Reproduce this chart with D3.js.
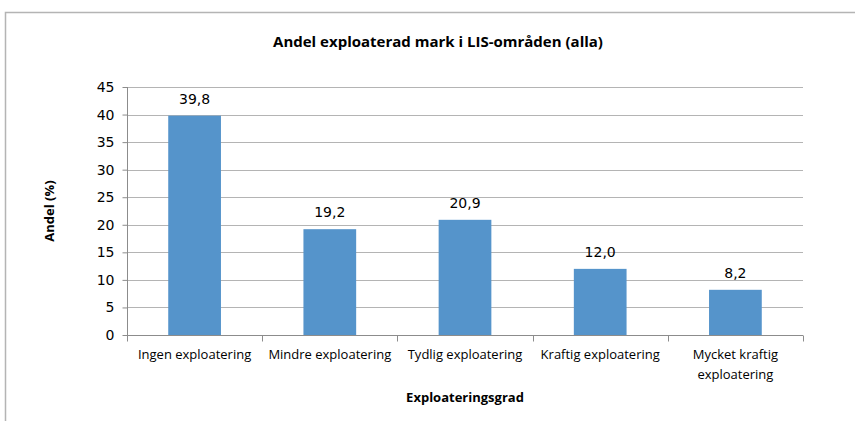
<!DOCTYPE html>
<html><head><meta charset="utf-8">
<script src="https://cdn.jsdelivr.net/npm/d3@7"></script>
<style>body{margin:0;background:#fff}svg{display:block}</style>
</head><body>
<script>
const categories = ["Ingen exploatering","Mindre exploatering","Tydlig exploatering","Kraftig exploatering","Mycket kraftig exploatering"];
const values = [39.8, 19.2, 20.9, 12.0, 8.2];
const yTicks = [0,5,10,15,20,25,30,35,40,45];
const title = "Andel exploaterad mark i LIS-områden (alla)";
const xTitle = "Exploateringsgrad";
const yTitle = "Andel (%)";

(function(){
const W = 855, H = 421;
const narrow = "'Liberation Sans Narrow','Arial Narrow','Open Sans',sans-serif";
const wide = "'DejaVu Sans',Verdana,sans-serif";
const svg = d3.select("body").append("svg").attr("width", W).attr("height", H);

// frame
svg.append("path").attr("d", `M5.5,${H} V12.5 H${W}`).attr("fill","none").attr("stroke","#b4b4b4").attr("stroke-width",1.5);

const pL = 127, pR = 803, pT = 87, pB = 335;
const x = d3.scaleBand().domain(categories).range([pL, pR]).paddingInner(0.61).paddingOuter(0.305);
const xb = d3.scaleBand().domain(categories).range([pL, pR]);
const y = d3.scaleLinear().domain([0,45]).range([pB, pT]);

// gridlines
svg.append("g").selectAll("line").data(yTicks.filter(d=>d>0)).join("line")
  .attr("x1", pL).attr("x2", pR).attr("y1", d=>Math.round(y(d))+0.5).attr("y2", d=>Math.round(y(d))+0.5)
  .attr("stroke","#b4b4b4").attr("stroke-width",1);

// bars
svg.append("g").selectAll("rect").data(values).join("rect")
  .attr("x", (d,i)=>x(categories[i])).attr("width", x.bandwidth())
  .attr("y", d=>y(d)).attr("height", d=>y(0)-y(d)).attr("fill","#5594cb");

// value labels
svg.append("g").selectAll("text").data(values).join("text")
  .attr("x", (d,i)=>x(categories[i]) + x.bandwidth()/2).attr("y", d=>y(d)-12)
  .attr("text-anchor","middle").attr("font-family", wide).attr("font-size",14).attr("fill","#000")
  .text(d=>d.toFixed(1).replace(".",","));

// y axis
const ya = svg.append("g").attr("transform",`translate(${pL+0.5},0)`)
  .call(d3.axisLeft(y).tickValues(yTicks).tickSize(5).tickPadding(8).tickFormat(d=>d));
ya.select(".domain").attr("stroke","#8c8c8c").attr("d",`M0,${pT}V${pB}`);
ya.selectAll(".tick line").attr("stroke","#8c8c8c");
ya.selectAll("text").attr("font-family", wide).attr("font-size",14).attr("fill","#000");

// x axis
const xa = svg.append("g").attr("transform",`translate(0,${pB+0.5})`);
xa.append("line").attr("x1",pL).attr("x2",pR).attr("stroke","#8c8c8c");
const bounds = [pL, ...categories.map(c=>xb(c)+xb.bandwidth())];
xa.selectAll("line.t").data(bounds).join("line").attr("class","t")
  .attr("x1",d=>Math.round(d)+0.5).attr("x2",d=>Math.round(d)+0.5).attr("y1",0).attr("y2",6).attr("stroke","#8c8c8c");

const lines = c => c === "Mycket kraftig exploatering" ? ["Mycket kraftig","exploatering"] : [c];
const cl = svg.append("g").selectAll("text").data(categories).join("text")
  .attr("x", c=>xb(c)+xb.bandwidth()/2).attr("y", 359)
  .attr("text-anchor","middle").attr("font-family", narrow).attr("font-size",13).attr("fill","#000");
cl.each(function(c){
  d3.select(this).selectAll("tspan").data(lines(c)).join("tspan")
    .attr("x", xb(c)+xb.bandwidth()/2).attr("dy",(d,i)=>i?20:0).text(d=>d);
});

// titles
svg.append("text").attr("x",438).attr("y",47).attr("text-anchor","middle")
  .attr("font-family",narrow).attr("font-weight","bold").attr("font-size",15).text(title);
svg.append("text").attr("x",465).attr("y",402).attr("text-anchor","middle")
  .attr("font-family",narrow).attr("font-weight","bold").attr("font-size",13).text(xTitle);
svg.append("text").attr("transform","translate(54,211) rotate(-90)").attr("text-anchor","middle")
  .attr("font-family",narrow).attr("font-weight","bold").attr("font-size",13).text(yTitle);
})();
</script>
</body></html>
